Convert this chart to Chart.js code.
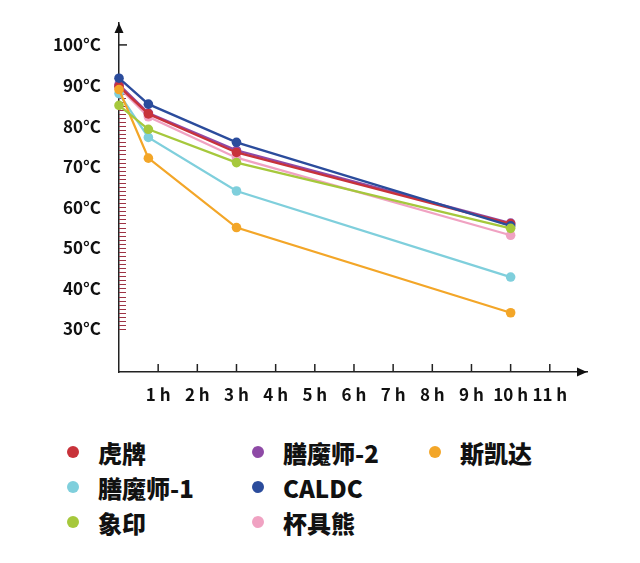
<!DOCTYPE html>
<html>
<head>
<meta charset="utf-8">
<script src="https://cdn.jsdelivr.net/npm/chart.js@4/dist/chart.umd.min.js"></script>
<style>
  html, body { margin: 0; padding: 0; background: #fff; }
  #wrap { position: relative; width: 640px; height: 563px; }
  #c { position: absolute; left: 0; top: 0; }
  .lg { position: absolute; display: flex; align-items: center; font-family: "Noto Sans CJK SC", "Noto Sans", sans-serif; font-weight: 900; font-size: 24px; color: #111; white-space: nowrap; }
  .lg .dot { position: absolute; width: 12px; height: 12px; border-radius: 50%; }
</style>
</head>
<body>
<div id="wrap">
  <canvas id="c" width="640" height="430"></canvas>
</div>
<script>
// ---- data ----
const times = [0, 0.75, 3, 10];
const seriesNames = ["虎牌", "膳魔师-1", "象印", "膳魔师-2", "CALDC", "杯具熊", "斯凯达"];
const tiger     = [89.8, 83.0, 73.5, 55.9];
const thermos1  = [88.0, 77.2, 64.0, 42.8];
const zojirushi = [85.1, 79.2, 71.0, 54.8];
const thermos2  = [90.2, 83.2, 74.0, 56.1];
const caldc     = [91.8, 85.4, 76.0, 55.4];
const tbear     = [89.5, 82.3, 72.2, 53.1];
const skater    = [89.0, 72.1, 55.0, 34.0];
const yTicks = [30, 40, 50, 60, 70, 80, 90, 100];
const xTicks = [1, 2, 3, 4, 5, 6, 7, 8, 9, 10, 11];
const xTickLabels = ["1 h", "2 h", "3 h", "4 h", "5 h", "6 h", "7 h", "8 h", "9 h", "10 h", "11 h"];

const seriesValues = [tiger, thermos1, zojirushi, thermos2, caldc, tbear, skater];
const colors = ["#c8323a", "#7fcfdc", "#a6c83c", "#8e4aa6", "#2b4c9c", "#f0a2c2", "#f3a628"];
// draw order (lower = on top)
const drawOrder = [5, 4, 1, 6, 2, 7, 3];

const datasets = seriesNames.map((name, i) => ({
  label: name,
  data: times.map((t, j) => ({ x: t, y: seriesValues[i][j] })),
  borderColor: colors[i],
  backgroundColor: colors[i],
  pointBackgroundColor: colors[i],
  pointBorderWidth: 0,
  pointRadius: 4.8,
  borderWidth: 2.3,
  tension: 0,
  clip: false,
  order: drawOrder[i]
}));

const axisDeco = {
  id: 'axisDeco',
  beforeDatasetsDraw(chart) {
    const { ctx, chartArea, scales: { x, y } } = chart;
    ctx.save();
    // minor red ticks on y axis
    ctx.strokeStyle = '#9e3345';
    ctx.lineWidth = 1;
    for (let v = 30; v <= 88; v++) {
      const py = Math.round(y.getPixelForValue(v)) + 0.5;
      ctx.beginPath();
      ctx.moveTo(chartArea.left, py);
      ctx.lineTo(chartArea.left + 7, py);
      ctx.stroke();
    }
    // major tick at 100
    ctx.strokeStyle = '#222';
    ctx.lineWidth = 1.5;
    const p100 = y.getPixelForValue(100);
    ctx.beginPath();
    ctx.moveTo(chartArea.left, p100);
    ctx.lineTo(chartArea.left + 8, p100);
    ctx.stroke();
    // x ticks upward
    xTicks.forEach(h => {
      const px = x.getPixelForValue(h);
      ctx.beginPath();
      ctx.moveTo(px, chartArea.bottom);
      ctx.lineTo(px, chartArea.bottom - 8);
      ctx.stroke();
    });
    // arrows
    ctx.fillStyle = '#111';
    ctx.beginPath();
    ctx.moveTo(chartArea.left, chartArea.top);
    ctx.lineTo(chartArea.left - 4.5, chartArea.top + 10);
    ctx.lineTo(chartArea.left + 4.5, chartArea.top + 10);
    ctx.closePath();
    ctx.fill();
    ctx.beginPath();
    ctx.moveTo(chartArea.right, chartArea.bottom);
    ctx.lineTo(chartArea.right - 10, chartArea.bottom - 4.5);
    ctx.lineTo(chartArea.right - 10, chartArea.bottom + 4.5);
    ctx.closePath();
    ctx.fill();
    ctx.restore();
  }
};

new Chart(document.getElementById('c'), {
  type: 'line',
  data: { datasets },
  options: {
    responsive: false,
    animation: false,
    devicePixelRatio: 1,
    layout: { padding: { top: 23, right: 53, left: 0, bottom: 0 } },
    plugins: { legend: { display: false }, tooltip: { enabled: false } },
    scales: {
      x: {
        type: 'linear',
        min: 0,
        max: 11.95,
        grid: { display: false },
        border: { display: true, color: '#222', width: 1.5 },
        afterBuildTicks: s => { s.ticks = xTicks.map(v => ({ value: v })); },
        afterFit: s => { s.height = 58; },
        ticks: {
          padding: 4,
          maxRotation: 0,
          autoSkip: false,
          color: '#111',
          font: { family: '"Noto Sans CJK SC", "Noto Sans", sans-serif', size: 17, weight: '700' },
          callback: (v) => xTickLabels[xTicks.indexOf(v)]
        }
      },
      y: {
        type: 'linear',
        min: 19.4,
        max: 105.4,
        grid: { display: false },
        border: { display: true, color: '#222', width: 1.5 },
        afterBuildTicks: s => { s.ticks = yTicks.map(v => ({ value: v })); },
        afterFit: s => { s.width = 119; },
        ticks: {
          padding: 10,
          color: '#111',
          font: { family: '"Noto Sans CJK SC", "Noto Sans", sans-serif', size: 17, weight: '700' },
          callback: (v) => v + '°C'
        }
      }
    }
  },
  plugins: [axisDeco]
});

// legend (column-major, 3 columns)
const wrap = document.getElementById('wrap');
const colX = [73, 258, 435];
const rowY = [452, 487, 522];
seriesNames.forEach((name, i) => {
  const col = Math.floor(i / 3), row = i % 3;
  const el = document.createElement('div');
  el.className = 'lg';
  el.style.left = (colX[col] + 25) + 'px';
  el.style.top = (rowY[row] - 16) + 'px';
  el.style.height = '32px';
  const dot = document.createElement('span');
  dot.className = 'dot';
  dot.style.background = colors[i];
  dot.style.left = '-31px';
  dot.style.top = '10px';
  el.appendChild(dot);
  el.appendChild(document.createTextNode(name));
  wrap.appendChild(el);
});
</script>
</body>
</html>
